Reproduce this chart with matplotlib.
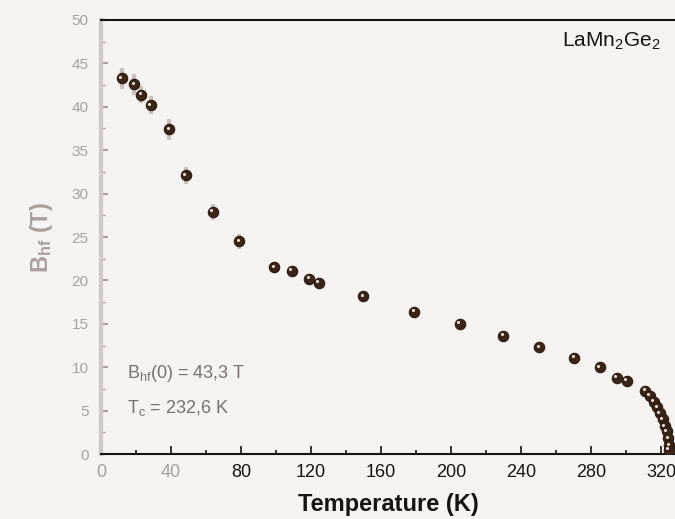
#!/usr/bin/env python3
import numpy as np
import matplotlib.pyplot as plt
from matplotlib.ticker import MultipleLocator
from matplotlib.transforms import ScaledTranslation

plt.rcParams["font.family"] = ["Liberation Sans", "DejaVu Sans"]
plt.rcParams["mathtext.fontset"] = "custom"
plt.rcParams["mathtext.rm"] = "Liberation Sans"
plt.rcParams["mathtext.it"] = "Liberation Sans"
plt.rcParams["mathtext.bf"] = "Liberation Sans:bold"

# Hyperfine field vs temperature
temp = [12, 19, 23, 28.5, 39, 48.5, 64, 79, 99, 109, 119, 124.5, 150, 179, 205, 230,
        250.5, 270.5, 285, 294.7, 300.4, 310.9, 313.7, 316, 318, 319.4, 321, 322.3,
        323.2, 324.2, 324.6, 324.3]
b_hf = [43.3, 42.6, 41.4, 40.2, 37.4, 32.1, 27.9, 24.5, 21.5, 21.1, 20.2, 19.7, 18.2,
        16.4, 15.0, 13.6, 12.3, 11.1, 10.0, 8.8, 8.45, 7.3, 6.7, 6.0, 5.4, 4.7, 4.0,
        3.2, 2.6, 1.8, 1.0, 0.5]
b_err = [1.2, 1.2, 1.0, 1.0, 1.2, 1.0, 0.9, 0.9, 0.5, 0.5, 0.5, 0.5, 0.4, 0.3, 0.3,
         0.3, 0.3, 0.3, 0.3, 0.3, 0.3, 0.2, 0.2, 0.2, 0.2, 0.2, 0.2, 0.2, 0.2, 0.2, 0.2, 0.2]

x_ticks = [0, 40, 80, 120, 160, 200, 240, 280, 320]
y_ticks = [0, 5, 10, 15, 20, 25, 30, 35, 40, 45, 50]

faded = "#aaa19d"
dark = "#1a1410"

fig = plt.figure(figsize=(6.75, 5.19), dpi=100, facecolor="#f6f3f1")
ax = fig.add_axes([0.1496, 0.1252, 0.8504, 0.8363])
ax.set_facecolor("none")

ax.errorbar(temp, b_hf, yerr=b_err, fmt="none", ecolor="#cdc2bc", elinewidth=3, zorder=2)
ax.plot(temp, b_hf, "o", ms=7.5, mfc="#3b2418", mec="#2a1a12", mew=0.8, zorder=3)
# small highlight on each ball
ax.plot(temp, b_hf, "o", ms=2.2, mfc="#f0e6df", mec="none", zorder=4,
        transform=ax.transData + ScaledTranslation(-1.1 / 72, 1.1 / 72, fig.dpi_scale_trans))

ax.set_xlim(0, 328)
ax.set_ylim(0, 50)
ax.set_xticks(x_ticks)
ax.set_yticks(y_ticks)
ax.xaxis.set_minor_locator(MultipleLocator(20))
ax.yaxis.set_minor_locator(MultipleLocator(2.5))
ax.tick_params(axis="x", which="both", direction="in", colors=dark, labelsize=13, pad=7)
ax.tick_params(axis="x", which="major", length=6, width=1.2)
ax.tick_params(axis="x", which="minor", length=3, width=1.2)
ax.tick_params(axis="y", which="both", direction="in", colors=faded, labelsize=11, pad=9)
ax.tick_params(axis="y", which="major", length=5, width=1.5)
ax.tick_params(axis="y", which="minor", length=3, width=1.0)
for lbl in ax.get_xticklabels()[:2]:
    lbl.set_color(faded)

ax.spines["right"].set_visible(False)
ax.spines["left"].set_color("#d2c9c5")
ax.spines["left"].set_linewidth(3)
ax.spines["bottom"].set_color(dark)
ax.spines["bottom"].set_linewidth(1.5)
ax.spines["top"].set_color(dark)
ax.spines["top"].set_linewidth(1.5)

ax.set_xlabel("Temperature (K)", fontsize=17, fontweight="bold", color=dark, labelpad=9)
ax.set_ylabel(r"$\mathbf{B_{hf}}$ (T)", fontsize=17, fontweight="bold", color=faded, labelpad=12)

ax.text(0.975, 0.975, r"LaMn$_2$Ge$_2$", transform=ax.transAxes, ha="right", va="top",
        fontsize=15, color=dark)
ax.text(0.045, 0.175, r"B$_\mathrm{hf}$(0) = 43,3 T", transform=ax.transAxes, fontsize=13,
        color="#7a706c")
ax.text(0.045, 0.095, r"T$_\mathrm{c}$ = 232,6 K", transform=ax.transAxes, fontsize=13,
        color="#7a706c")

fig.savefig("out.png", dpi=100, facecolor=fig.get_facecolor())
